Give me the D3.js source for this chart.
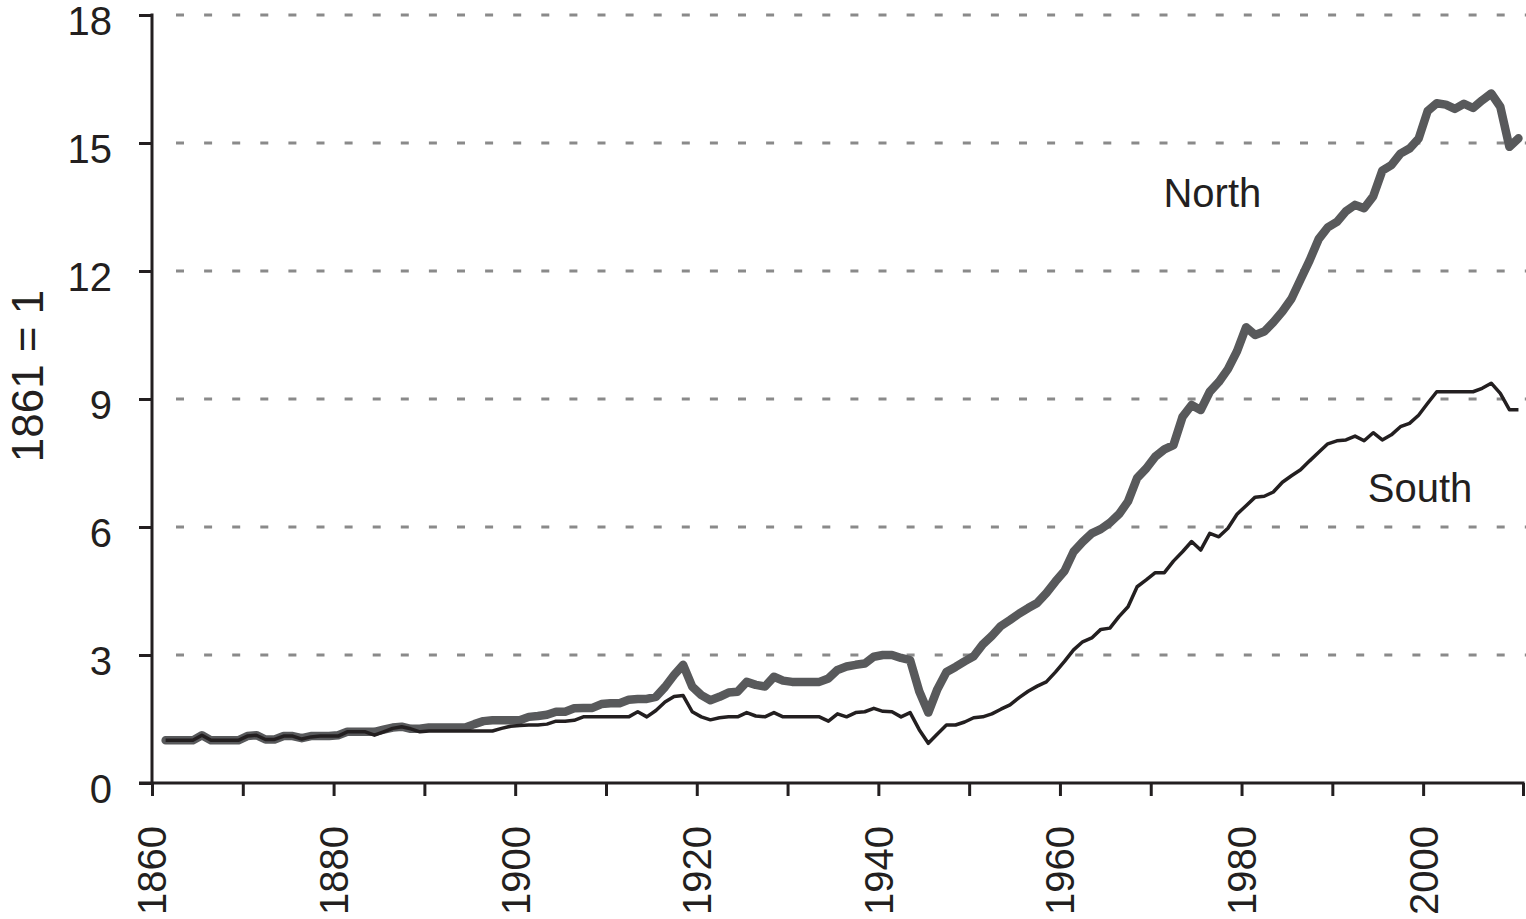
<!DOCTYPE html>
<html>
<head>
<meta charset="utf-8">
<script src="https://cdn.jsdelivr.net/npm/d3@7"></script>
<style>
  html, body { margin: 0; padding: 0; background: #fff; }
  svg { display: block; font-family: "Liberation Sans", Arial, Helvetica, sans-serif; }
</style>
</head>
<body>
<svg id="chart" width="1526" height="919"></svg>
<script>
// ---- Data (1861 = 1) ----
const years = d3.range(1861, 2011); // 1861..2010

const north = [
  1.00, 1.00, 1.00, 1.00, 1.12, 1.00, 1.00, 1.00, 1.00, 1.10, // 1861-1870
  1.12, 1.02, 1.02, 1.10, 1.10, 1.05, 1.10, 1.10, 1.10, 1.12, // 1871-1880
  1.20, 1.20, 1.20, 1.20, 1.25, 1.30, 1.32, 1.27, 1.27, 1.30, // 1881-1890
  1.30, 1.30, 1.30, 1.30, 1.38, 1.45, 1.47, 1.47, 1.47, 1.47, // 1891-1900
  1.55, 1.57, 1.60, 1.67, 1.67, 1.75, 1.76, 1.76, 1.85, 1.87, // 1901-1910
  1.87, 1.95, 1.97, 1.97, 2.02, 2.25, 2.53, 2.77, 2.26, 2.06, // 1911-1920
  1.94, 2.02, 2.12, 2.14, 2.37, 2.30, 2.26, 2.49, 2.40, 2.37, // 1921-1930
  2.37, 2.37, 2.37, 2.45, 2.65, 2.73, 2.77, 2.80, 2.96, 3.00, // 1931-1940
  3.00, 2.93, 2.88, 2.15, 1.65, 2.20, 2.60, 2.72, 2.85, 2.97, // 1941-1950
  3.25, 3.45, 3.68, 3.82, 3.97, 4.10, 4.22, 4.45, 4.72, 4.97, // 1951-1960
  5.42, 5.65, 5.85, 5.95, 6.10, 6.30, 6.60, 7.15, 7.37, 7.65, // 1961-1970
  7.82, 7.92, 8.58, 8.86, 8.74, 9.17, 9.40, 9.70, 10.12, 10.68, // 1971-1980
  10.50, 10.58, 10.80, 11.05, 11.35, 11.80, 12.25, 12.75, 13.02, 13.15, // 1981-1990
  13.40, 13.55, 13.47, 13.75, 14.35, 14.48, 14.75, 14.87, 15.10, 15.75, // 1991-2000
  15.93, 15.90, 15.80, 15.92, 15.82, 16.00, 16.16, 15.85, 14.91, 15.11  // 2001-2010
];

const south = [
  1.00, 1.00, 1.00, 1.00, 1.12, 1.00, 1.00, 1.00, 1.00, 1.10, // 1861-1870
  1.12, 1.02, 1.02, 1.10, 1.10, 1.03, 1.08, 1.10, 1.10, 1.10, // 1871-1880
  1.20, 1.20, 1.20, 1.12, 1.20, 1.28, 1.32, 1.27, 1.20, 1.22, // 1881-1890
  1.22, 1.22, 1.22, 1.22, 1.22, 1.22, 1.22, 1.28, 1.33, 1.35, // 1891-1900
  1.36, 1.36, 1.38, 1.45, 1.45, 1.47, 1.55, 1.55, 1.55, 1.55, // 1901-1910
  1.55, 1.55, 1.67, 1.55, 1.70, 1.90, 2.03, 2.05, 1.67, 1.55, // 1911-1920
  1.48, 1.53, 1.55, 1.55, 1.65, 1.57, 1.55, 1.65, 1.55, 1.55, // 1921-1930
  1.55, 1.55, 1.55, 1.45, 1.62, 1.55, 1.65, 1.67, 1.75, 1.68, // 1931-1940
  1.67, 1.55, 1.65, 1.25, 0.93, 1.15, 1.36, 1.36, 1.43, 1.53, // 1941-1950
  1.55, 1.62, 1.73, 1.83, 2.00, 2.15, 2.27, 2.37, 2.60, 2.85, // 1951-1960
  3.12, 3.31, 3.40, 3.60, 3.63, 3.90, 4.13, 4.60, 4.76, 4.93, // 1961-1970
  4.93, 5.20, 5.42, 5.66, 5.46, 5.85, 5.77, 5.97, 6.30, 6.50, // 1971-1980
  6.70, 6.72, 6.82, 7.05, 7.20, 7.34, 7.55, 7.75, 7.95, 8.02, // 1981-1990
  8.04, 8.13, 8.02, 8.21, 8.04, 8.16, 8.35, 8.43, 8.62, 8.90, // 1991-2000
  9.17, 9.17, 9.17, 9.17, 9.17, 9.25, 9.37, 9.13, 8.75, 8.75  // 2001-2010
];

const yTicks = [0, 3, 6, 9, 12, 15, 18];
const xLabelTicks = [1860, 1880, 1900, 1920, 1940, 1960, 1980, 2000];
const xMinorTicks = [1860, 1870, 1880, 1890, 1900, 1910, 1920, 1930, 1940, 1950, 1960, 1970, 1980, 1990, 2000, 2011];
const yTitle = "1861 = 1";
const seriesLabels = [
  { name: "North", year: 1971.4, value: 13.5 },
  { name: "South", year: 1993.9, value: 6.585 }
];

// ---- Layout ----
const svg = d3.select("#chart");
const mLeft = 152, mRight = 1523, mTop = 15, mBottom = 783;
const x = d3.scaleLinear().domain([1860, 2011]).range([mLeft, mRight]);
const y = d3.scaleLinear().domain([0, 18]).range([mBottom, mTop]);
const ink = "#231f20";
const catCenter = 0.5; // points sit at the centre of each yearly category

// gridlines (dotted)
svg.append("g").selectAll("line")
  .data(yTicks.filter(d => d > 0))
  .join("line")
  .attr("x1", mLeft + 24).attr("x2", 1526)
  .attr("y1", d => y(d)).attr("y2", d => y(d))
  .attr("stroke", "#8a8a8a")
  .attr("stroke-width", 3)
  .attr("stroke-dasharray", "8 20.1");

// series lines
const lineGen = d3.line()
  .x((d, i) => x(years[i] + catCenter))
  .y(d => y(d));

svg.append("path")
  .attr("d", lineGen(north))
  .attr("fill", "none")
  .attr("stroke", "#58595b")
  .attr("stroke-width", 8.5)
  .attr("stroke-linejoin", "round")
  .attr("stroke-linecap", "round");

svg.append("path")
  .attr("d", lineGen(south))
  .attr("fill", "none")
  .attr("stroke", ink)
  .attr("stroke-width", 3.5)
  .attr("stroke-linejoin", "round");

// y axis
const yAxis = d3.axisLeft(y).tickValues(yTicks).tickSize(13).tickPadding(27).tickFormat(d3.format("d"));
const gy = svg.append("g").attr("transform", `translate(${mLeft},0)`).call(yAxis);
gy.select(".domain").remove();
gy.selectAll(".tick line").attr("stroke", ink).attr("stroke-width", 3);
gy.selectAll(".tick text").attr("fill", ink).attr("font-size", 40).attr("dy", "0.48em")
  .attr("font-family", "Liberation Sans, Arial, sans-serif");
gy.append("line").attr("x1", 0).attr("x2", 0).attr("y1", mTop - 1.5).attr("y2", mBottom + 1.5)
  .attr("stroke", ink).attr("stroke-width", 3);

// x axis
const xAxis = d3.axisBottom(x).tickValues(xMinorTicks).tickSize(13).tickFormat("");
const gx = svg.append("g").attr("transform", `translate(0,${mBottom})`).call(xAxis);
gx.select(".domain").remove();
gx.selectAll(".tick line").attr("stroke", ink).attr("stroke-width", 3);
gx.append("line").attr("x1", mLeft - 13).attr("x2", mRight + 1.5).attr("y1", 0).attr("y2", 0)
  .attr("stroke", ink).attr("stroke-width", 3);

// x labels rotated
svg.append("g").selectAll("text")
  .data(xLabelTicks)
  .join("text")
  .attr("transform", d => `translate(${x(d)},${mBottom + 43}) rotate(-90)`)
  .attr("text-anchor", "end")
  .attr("dy", "0.36em")
  .attr("font-size", 40)
  .attr("fill", ink)
  .text(d => d);

// y title
svg.append("text")
  .attr("transform", `translate(27,376) rotate(-90)`)
  .attr("text-anchor", "middle")
  .attr("dy", "0.36em")
  .attr("font-size", 44)
  .attr("fill", ink)
  .text(yTitle);

// series labels
svg.append("g").selectAll("text")
  .data(seriesLabels)
  .join("text")
  .attr("x", d => x(d.year))
  .attr("y", d => y(d.value))
  .attr("font-size", 40)
  .attr("fill", ink)
  .text(d => d.name);
</script>
</body>
</html>
